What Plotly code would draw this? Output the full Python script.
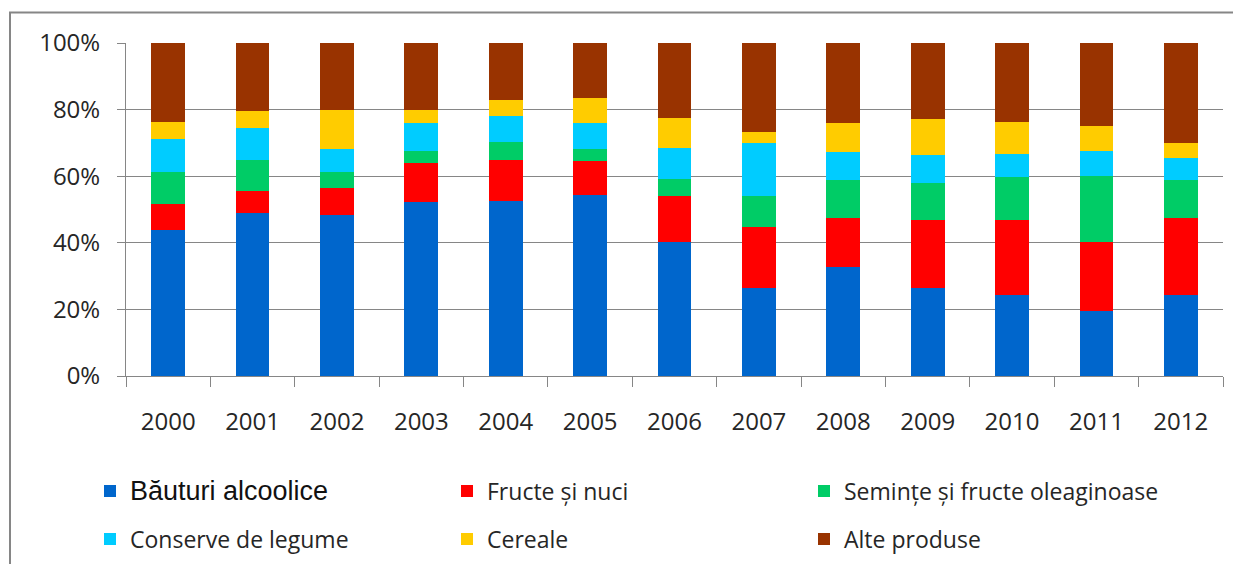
import plotly.graph_objects as go

years = ["2000", "2001", "2002", "2003", "2004", "2005", "2006",
         "2007", "2008", "2009", "2010", "2011", "2012"]

bauturi = [43.8, 49.0, 48.3, 52.2, 52.5, 54.1, 40.1, 26.4, 32.7, 26.4, 24.3, 19.5, 24.3]
fructe = [8.0, 6.7, 8.3, 11.9, 12.4, 10.4, 14.0, 18.3, 14.6, 20.5, 22.6, 20.7, 23.0]
seminte = [9.4, 9.1, 4.6, 3.6, 5.4, 3.6, 5.2, 9.4, 11.6, 11.0, 12.8, 19.9, 11.6]
conserve = [10.1, 9.6, 6.9, 8.3, 7.7, 7.6, 9.2, 15.8, 8.3, 8.5, 7.1, 7.5, 6.7]
cereale = [4.9, 5.2, 11.9, 4.0, 4.8, 7.5, 9.1, 3.3, 8.8, 10.8, 9.6, 7.6, 4.3]
alte = [23.8, 20.4, 20.0, 20.0, 17.2, 16.5, 22.4, 26.8, 24.0, 22.8, 23.6, 24.8, 30.1]

series = [
    ('<span style="font-family:Liberation Sans;font-size:27px;color:#111111;">Băuturi alcoolice</span>', bauturi, "#0066CC", "legend"),
    ("Fructe și nuci", fructe, "#FF0000", "legend"),
    ("Semințe și fructe oleaginoase", seminte, "#00CC66", "legend"),
    ("Conserve de legume", conserve, "#00CCFF", "legend2"),
    ("Cereale", cereale, "#FFCC00", "legend2"),
    ("Alte produse", alte, "#993300", "legend2"),
]

fig = go.Figure()
for name, vals, color, lg in series:
    fig.add_trace(go.Bar(x=years, y=vals, name=name, marker_color=color,
                         marker_line_width=0, legend=lg))

# page body has an 8px margin, so figure coordinates = reference - 8
OFF = 8
W, H = 1225, 556
L, R, T = 118, 10, 35
B = H - (376 - OFF)
pw = W - L - R
ph = H - T - B

def px_x(x):
    return (x - L) / pw

def px_y(y):
    return (H - B - y) / ph

font_family = "Open Sans"
legend_common = dict(
    orientation="h", traceorder="normal", entrywidth=312, entrywidthmode="pixels",
    font=dict(family=font_family, size=23, color="#262626"),
    bgcolor="rgba(0,0,0,0)", itemwidth=30, xanchor="left", yanchor="middle",
    borderwidth=0,
)

fig.update_layout(
    width=W, height=H,
    margin=dict(l=L, r=R, t=T, b=B, pad=0, autoexpand=False),
    barmode="stack", barnorm="percent", bargap=0.6,
    plot_bgcolor="white", paper_bgcolor="white",
    font=dict(family=font_family, size=24, color="#262626"),
    legend=dict(x=px_x(82), y=px_y(491 - OFF), **legend_common),
    legend2=dict(x=px_x(82), y=px_y(539 - OFF), **legend_common),
    showlegend=True,
)

fig.update_yaxes(
    range=[0, 100], dtick=20, ticksuffix="%",
    showgrid=True, gridcolor="#868686", gridwidth=1,
    showline=True, linecolor="#868686", linewidth=1,
    ticks="outside", ticklen=8, tickcolor="#868686",
    tickfont=dict(family=font_family, size=24, color="#262626"),
    ticklabelstandoff=12, zeroline=False,
)
fig.update_xaxes(
    showline=True, linecolor="#868686", linewidth=1,
    ticks="outside", ticklen=10, tickcolor="#868686", tickson="boundaries",
    tickfont=dict(family=font_family, size=24, color="#262626"),
    ticklabelstandoff=24, showgrid=False,
)

fig.add_shape(type="rect", xref="paper", yref="paper",
              x0=px_x(10 - OFF), x1=px_x(1300), y0=px_y(640), y1=px_y(12.5 - OFF),
              line=dict(color="#868686", width=2), fillcolor="rgba(0,0,0,0)",
              layer="below")

fig.write_html("out.html")
